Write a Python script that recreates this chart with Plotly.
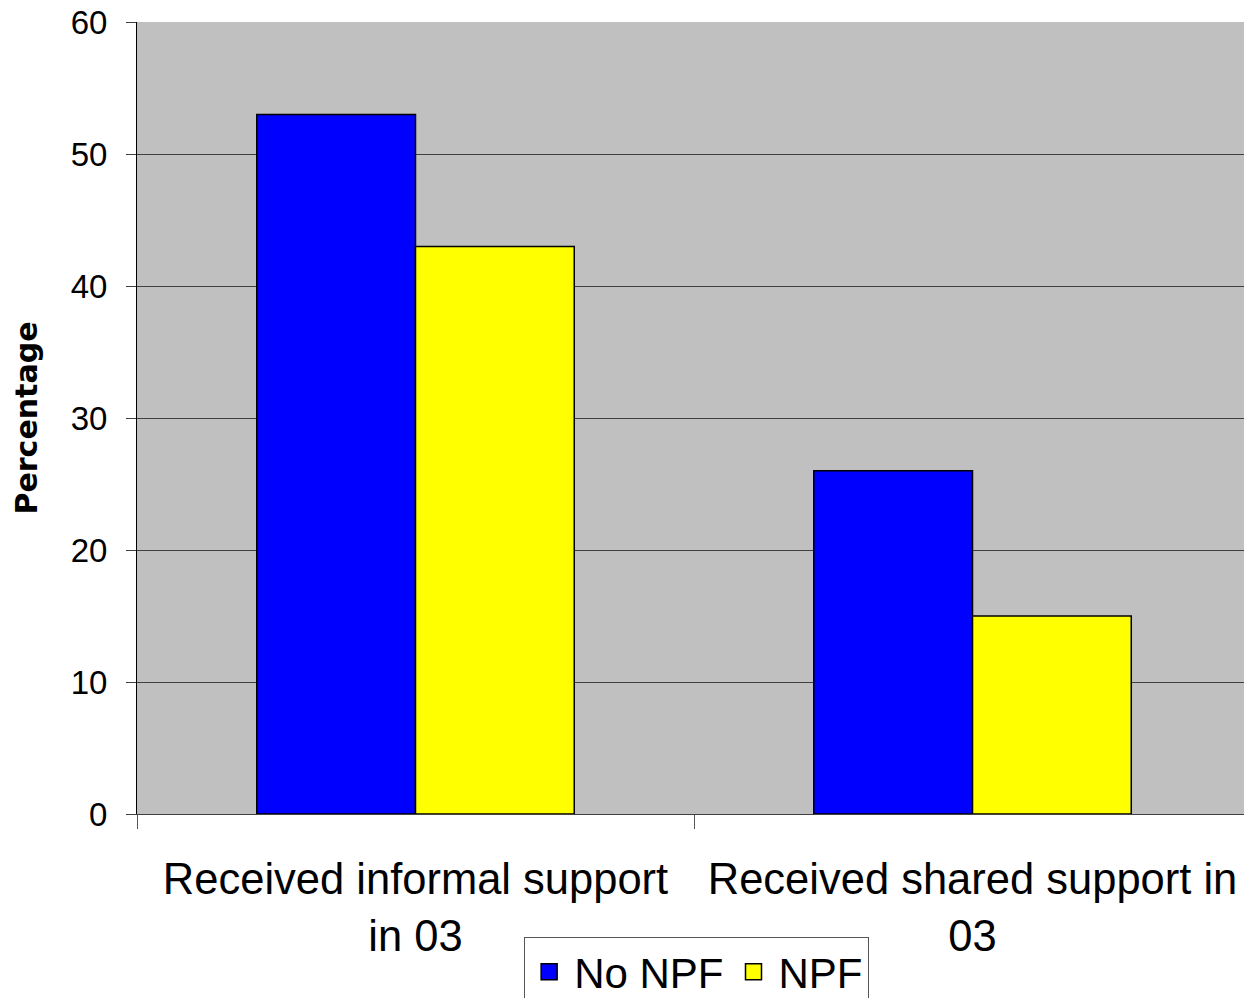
import plotly.graph_objects as go

categories = ["Received informal support<br>in 03", "Received shared support in<br>03"]
series_names = ["No NPF", "NPF"]
no_npf = [53, 26]
npf = [43, 15]
y_ticks = [0, 10, 20, 30, 40, 50, 60]

colors = ["#0000FF", "#FFFF00"]

fig = go.Figure()
for name, vals, col in zip(series_names, [no_npf, npf], colors):
    fig.add_trace(go.Bar(
        x=categories, y=vals, name=name, showlegend=False, legendgroup=name,
        marker=dict(color=col, line=dict(color="#000000", width=1.5)),
    ))
# legend-only entries with larger square swatches
for name, col in zip(series_names, colors):
    fig.add_trace(go.Scatter(
        x=[None], y=[None], name=name, mode="markers", legendgroup=name,
        marker=dict(symbol="square", size=28, color=col, line=dict(color="#000000", width=1.5)),
    ))

fig.update_layout(
    width=1244, height=998,
    margin=dict(l=137, r=0, t=22, b=184, autoexpand=False),
    paper_bgcolor="white",
    plot_bgcolor="#C0C0C0",
    barmode="group",
    bargap=0.43,
    bargroupgap=0,
    font=dict(family="Liberation Sans, Arial, sans-serif", color="black"),
    showlegend=True,
    legend=dict(
        orientation="h",
        xref="container", yref="container",
        x=0.56, xanchor="center",
        y=1 - 937 / 998, yanchor="top",
        font=dict(size=42, family="Liberation Sans, Arial, sans-serif"),
        bordercolor="#555555", borderwidth=1, bgcolor="white",
        itemwidth=40,
    ),
)

fig.update_xaxes(
    type="category",
    range=[-0.5, 1.4874],
    tickson="boundaries",
    ticks="outside", ticklen=14, tickcolor="#555555", tickwidth=1,
    showline=True, linecolor="#404040", linewidth=1,
    showgrid=False,
    tickfont=dict(size=43.5),
    ticklabelstandoff=27,
    automargin=False,
)

fig.update_yaxes(
    range=[0, 60],
    tickvals=y_ticks,
    ticks="outside", ticklen=10, tickcolor="#404040", tickwidth=1,
    showline=True, linecolor="#000000", linewidth=1,
    showgrid=True, gridcolor="#404040", gridwidth=1,
    zeroline=False,
    tickfont=dict(size=33),
    ticklabelstandoff=12,
    automargin=False,
    title=dict(text="<b>Percentage</b>", font=dict(size=30, family="DejaVu Sans"), standoff=24),
)

fig.write_html("out.html")
